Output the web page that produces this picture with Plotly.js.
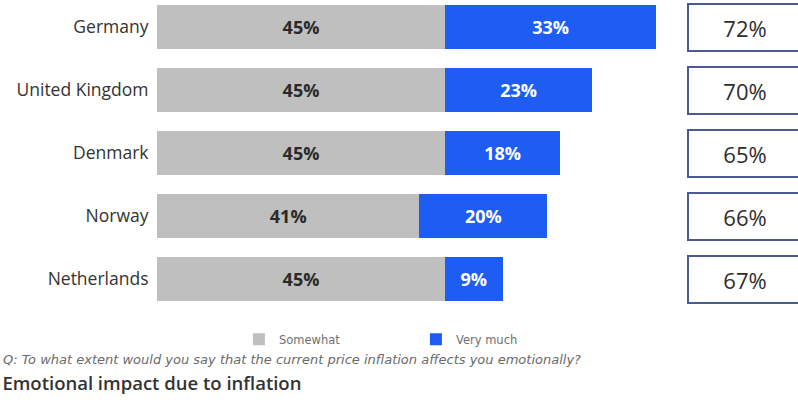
<!DOCTYPE html>
<html>
<head>
<meta charset="utf-8">
<script src="https://cdn.plot.ly/plotly-3.0.1.min.js"></script>
<style>html,body{margin:0;padding:0;background:#fff;}#chart{width:798px;height:404px;}</style>
</head>
<body>
<div id="chart"></div>
<script>
const countries = ["Germany", "United Kingdom", "Denmark", "Norway", "Netherlands"];
const somewhat = [45, 45, 45, 41, 45];
const veryMuch = [33, 23, 18, 20, 9];
const totals = [72, 70, 65, 66, 67];
const seriesNames = ["Somewhat", "Very much"];
const titleText = "Emotional impact due to inflation";
const questionText = "Q: To what extent would you say that the current price inflation affects you emotionally?";

const FONT = "'Open Sans', 'Noto Sans', sans-serif";
const WIDE = "'DejaVu Sans', sans-serif";
const GRAY = "#bfbfbf";
const BLUE = "#1d5df4";

const traces = [
  {
    type: "bar", orientation: "h", name: seriesNames[0],
    y: countries, x: somewhat,
    marker: {color: GRAY},
    text: somewhat.map(v => v + "%"), textposition: "inside", insidetextanchor: "middle",
    textfont: {family: FONT, size: 18, color: "#2a2a2a", weight: "bold"},
    constraintext: "none", hoverinfo: "skip"
  },
  {
    type: "bar", orientation: "h", name: seriesNames[1],
    y: countries, x: veryMuch,
    marker: {color: BLUE},
    text: veryMuch.map(v => v + "%"), textposition: "inside", insidetextanchor: "middle",
    textfont: {family: FONT, size: 18, color: "#ffffff", weight: "bold"},
    constraintext: "none", hoverinfo: "skip"
  }
];

const annotations = countries.map((c, i) => ({
  xref: "paper", yref: "y", x: 0.91875, y: c, xanchor: "center", yanchor: "middle",
  text: totals[i] + "%", showarrow: false,
  width: 112, height: 45, borderpad: 0, borderwidth: 2,
  bordercolor: "#4a5a94", bgcolor: "#ffffff", align: "center",
  font: {family: FONT, size: 22, color: "#2e2e2e"}
}));
annotations.push({
  xref: "paper", yref: "paper", x: -0.243, y: -0.122, xanchor: "left", yanchor: "middle",
  text: "<i>" + questionText + "</i>", showarrow: false,
  font: {family: WIDE, size: 13, color: "#6a6a6a"}
});

const layout = {
  width: 798, height: 404,
  margin: {l: 157, r: 1, t: 0, b: 84},
  paper_bgcolor: "#ffffff", plot_bgcolor: "#ffffff",
  barmode: "stack", bargap: 0.30,
  showlegend: true,
  legend: {
    orientation: "h", x: 0.128, y: -0.06, xanchor: "left", yanchor: "middle",
    font: {family: WIDE, size: 11.5, color: "#707070"},
    itemwidth: 30, entrywidth: 132, entrywidthmode: "pixels",
    traceorder: "normal", bgcolor: "rgba(0,0,0,0)"
  },
  title: {
    text: titleText, x: 0.003, xanchor: "left", xref: "container",
    y: 1 - 384 / 404, yanchor: "middle", yref: "container",
    font: {family: FONT, size: 18.5, color: "#333333", weight: 600}
  },
  xaxis: {range: [0, 100], visible: false, fixedrange: true},
  yaxis: {
    type: "category", range: [4.65, -0.43],
    showgrid: false, zeroline: false, showline: false,
    ticks: "outside", ticklen: 4, tickcolor: "rgba(0,0,0,0)",
    tickfont: {family: FONT, size: 17.5, color: "#333333"}
  },
  annotations: annotations
};

Plotly.newPlot("chart", traces, layout, {displayModeBar: false, staticPlot: true});
</script>
</body>
</html>
